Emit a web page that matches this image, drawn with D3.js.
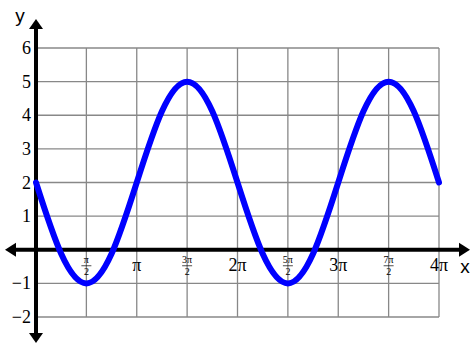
<!DOCTYPE html>
<html>
<head>
<meta charset="utf-8">
<script src="https://cdn.jsdelivr.net/npm/d3@7"></script>
<style>
  html, body { margin: 0; padding: 0; background: #fff; }
  svg { display: block; }
  .serif { font-family: "Liberation Serif", "Times New Roman", "DejaVu Serif", serif; }
  .sans { font-family: "Liberation Sans", Arial, sans-serif; }
</style>
</head>
<body>
<div id="chart"></div>
<script>
// curve samples, x in quarter-pi steps, y
const curveX = [0, 1, 2, 3, 4, 5, 6, 7, 8, 9, 10, 11, 12, 13, 14, 15, 16];
const curveY = [2, -0.12, -1, -0.12, 2, 4.12, 5, 4.12, 2, -0.12, -1, -0.12, 2, 4.12, 5, 4.12, 2];

// x ticks in halves of pi
const xTickValues = [1, 2, 3, 4, 5, 6, 7, 8];
const xTickNum = ["π", "π", "3π", "2π", "5π", "3π", "7π", "4π"];
const xTickFrac = [true, false, true, false, true, false, true, false];

const yTickValues = [-2, -1, 1, 2, 3, 4, 5, 6];
const yTickLabels = ["−2", "−1", "1", "2", "3", "4", "5", "6"];

const width = 472, height = 343;

const svg = d3.select("#chart").append("svg")
  .attr("width", width)
  .attr("height", height);

// x in quarter-pi units
const x = d3.scaleLinear().domain([0, 16]).range([36, 439]);
const y = d3.scaleLinear().domain([-2, 6]).range([317, 48]);

// grid
const grid = svg.append("g").attr("stroke", "#888").attr("stroke-width", 1.3);
for (let i = 0; i <= 8; i++) {
  grid.append("line")
    .attr("x1", x(i * 2)).attr("x2", x(i * 2))
    .attr("y1", y(-2)).attr("y2", y(6));
}
for (let v = -2; v <= 6; v++) {
  grid.append("line")
    .attr("x1", x(0)).attr("x2", x(16))
    .attr("y1", y(v)).attr("y2", y(v));
}

// axes
const axes = svg.append("g");
axes.append("line")
  .attr("x1", 12).attr("x2", 462)
  .attr("y1", y(0)).attr("y2", y(0))
  .attr("stroke", "#000").attr("stroke-width", 4);
axes.append("line")
  .attr("x1", x(0)).attr("x2", x(0))
  .attr("y1", 26).attr("y2", 336)
  .attr("stroke", "#000").attr("stroke-width", 4);

const y0 = y(0), x0 = x(0);
axes.append("path").attr("d", `M5,${y0} L16,${y0 - 7} L16,${y0 + 7} Z`);
axes.append("path").attr("d", `M470,${y0} L459,${y0 - 7} L459,${y0 + 7} Z`);
axes.append("path").attr("d", `M${x0},19 L${x0 - 7},29 L${x0 + 7},29 Z`);
axes.append("path").attr("d", `M${x0},343 L${x0 - 7},333 L${x0 + 7},333 Z`);

// curve
const line = d3.line()
  .x((d, i) => x(curveX[i]))
  .y(d => y(d))
  .curve(d3.curveNatural);

svg.append("path")
  .datum(curveY)
  .attr("d", line)
  .attr("fill", "none")
  .attr("stroke", "#0000ff")
  .attr("stroke-width", 6)
  .attr("stroke-linecap", "round");

// y tick labels
svg.append("g")
  .attr("class", "serif")
  .selectAll("text")
  .data(yTickValues)
  .join("text")
  .attr("x", 31)
  .attr("y", d => y(d) + 6)
  .attr("text-anchor", "end")
  .attr("font-size", 18)
  .text((d, i) => yTickLabels[i]);

// x tick labels
const xl = svg.append("g")
  .attr("class", "serif")
  .attr("text-anchor", "middle");
xTickValues.forEach((v, i) => {
  const cx = x(v * 2);
  if (xTickFrac[i]) {
    xl.append("text").attr("x", cx).attr("y", y0 + 13)
      .attr("font-size", 10).text(xTickNum[i]);
    xl.append("line")
      .attr("x1", cx - 5).attr("x2", cx + 5)
      .attr("y1", y0 + 16).attr("y2", y0 + 16)
      .attr("stroke", "#000").attr("stroke-width", 0.7);
    xl.append("text").attr("x", cx).attr("y", y0 + 25)
      .attr("font-size", 10).text("2");
  } else {
    xl.append("text").attr("x", cx).attr("y", y0 + 21)
      .attr("font-size", 18).text(xTickNum[i]);
  }
});

// axis names
svg.append("text")
  .attr("class", "sans")
  .attr("x", 20).attr("y", 22)
  .attr("text-anchor", "middle")
  .attr("font-size", 19)
  .text("y");
svg.append("text")
  .attr("class", "sans")
  .attr("x", 465).attr("y", 273)
  .attr("text-anchor", "middle")
  .attr("font-size", 19)
  .text("x");
</script>
</body>
</html>
